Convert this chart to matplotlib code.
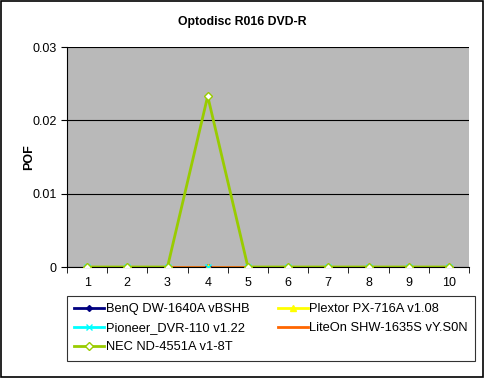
import numpy as np
import matplotlib.pyplot as plt

# Optodisc R016 DVD-R, POF per zone
zones = [1, 2, 3, 4, 5, 6, 7, 8, 9, 10]
benq = [0, 0, 0, 0, 0, 0, 0, 0, 0, 0]
plextor = [0, 0, 0, 0, 0, 0, 0, 0, 0, 0]
pioneer = [0, 0, 0, 0, 0, 0, 0, 0, 0, 0]
liteon = [0, 0, 0, 0, 0, 0, 0, 0, 0, 0]
nec = [0, 0, 0, 0.0233, 0, 0, 0, 0, 0, 0]

plt.rcParams['font.family'] = ['Liberation Sans', 'DejaVu Sans']

fig = plt.figure(figsize=(4.84, 3.78), dpi=100)
fig.patches.append(plt.Rectangle((0.002, 0.003), 0.995, 0.994, transform=fig.transFigure,
                                 fill=False, edgecolor='black', linewidth=1.2))
ax = fig.add_axes([67/484, 1 - 267/378, (469-67)/484, (267-47)/378])
ax.set_facecolor('#b9b9b9')

series = [
    (benq, 'BenQ DW-1640A vBSHB', dict(color='#000080', marker='D', markersize=3)),
    (plextor, 'Plextor PX-716A v1.08', dict(color='#ffff00', marker='^', markersize=5)),
    (pioneer, 'Pioneer_DVR-110 v1.22', dict(color='#00ffff', marker='x', markersize=5, mew=1)),
    (liteon, 'LiteOn SHW-1635S vY.S0N', dict(color='#ff6600', marker='None')),
    (nec, 'NEC ND-4551A v1-8T', dict(color='#99cc00', marker='D', markersize=4, mfc='white',
                                     mec='#99cc00', mew=1)),
]

handles = []
for i, (vals, name, st) in enumerate(series):
    # lines first, markers drawn above all lines like Excel does
    ax.plot(zones, vals, color=st['color'], lw=2, zorder=2 + i * 0.01)
    ax.plot(zones, vals, ls='none', zorder=3 + i * 0.01, **st)
    h, = ax.plot([], [], lw=2, **st)
    handles.append((h, name))

ax.set_xlim(0.5, 10.5)
ax.set_ylim(0, 0.03)
ax.set_yticks([0, 0.01, 0.02, 0.03])
ax.set_yticklabels(['0', '0.01', '0.02', '0.03'])
ax.set_xticks(zones)
ax.set_xticks(np.arange(0.5, 11, 1), minor=True)
ax.tick_params(axis='x', which='major', length=0, labelsize=9, pad=7)
ax.tick_params(axis='x', which='minor', length=4, direction='out')
ax.tick_params(axis='y', length=4, direction='out', labelsize=9)
ax.yaxis.grid(True, color='black', lw=0.8)
ax.set_axisbelow(True)
for s in ['top', 'right']:
    ax.spines[s].set_visible(False)
ax.spines['left'].set_linewidth(0.8)
ax.spines['bottom'].set_linewidth(0.8)

ax.set_ylabel('POF', fontsize=9, fontweight='bold', labelpad=-2)
fig.text(0.5, 1 - 22/378, 'Optodisc R016 DVD-R', ha='center', va='center', fontsize=8.8, fontweight='bold')

# row-major order like the original: BenQ, Plextor / Pioneer, LiteOn / NEC
order = [0, 2, 4, 1, 3]
leg = fig.legend([handles[i][0] for i in order], [handles[i][1] for i in order], ncol=2,
                 loc='upper left', bbox_to_anchor=(67/484, 1 - 296/378), borderaxespad=0,
                 fontsize=9.3, frameon=True, fancybox=False, edgecolor='black', borderpad=0.55,
                 handlelength=2.3, handletextpad=0.15, columnspacing=2.2, labelspacing=0.55)
leg.get_frame().set_linewidth(0.8)

fig.savefig('out.png', dpi=100)
